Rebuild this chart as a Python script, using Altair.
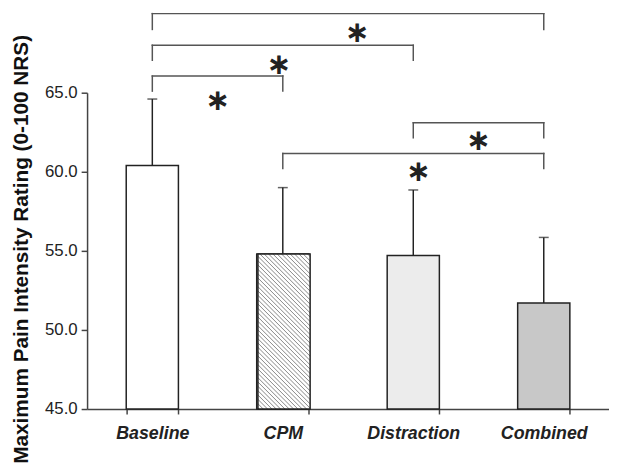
import altair as alt
import pandas as pd

categories = ["Baseline", "CPM", "Distraction", "Combined"]
means = [60.4, 54.8, 54.7, 51.7]
upper = [64.6, 59.0, 58.85, 55.85]
fills = ["#ffffff", "#d8d8d8", "#ececec", "#c8c8c8"]

y_ticks = [45, 50, 55, 60, 65]

# significance brackets: left / right category index, top value, leg end value
br_left = [0, 0, 0, 2, 1]
br_right = [3, 2, 1, 3, 3]
br_top = [70.0, 68.0, 66.05, 63.1, 61.15]
br_leg = [69.0, 67.05, 65.1, 62.15, 60.2]

# asterisks (position in category index units, value units)
star_x = [0.5, 0.97, 1.57, 2.5, 2.04]
star_y = [64.5, 66.75, 68.75, 61.95, 60.0]

FONT = "Liberation Sans"
WIDTH, HEIGHT = 528, 320
Y0, Y1 = 45, 65

bars_df = pd.DataFrame({
    "cat": categories,
    "mean": means,
    "upper": upper,
    "idx": list(range(len(categories))),
    "fill": fills,
})
br_df = pd.DataFrame({"l": br_left, "r": br_right, "top": br_top, "leg": br_leg})
legs_df = pd.DataFrame({
    "idx": br_left + br_right,
    "top": br_top + br_top,
    "leg": br_leg + br_leg,
})
star_df = pd.DataFrame({"x": star_x, "y": star_y})

yscale = alt.Scale(domain=[Y0, Y1], nice=False, zero=False)
xq = alt.Scale(domain=[-0.5, 3.5], nice=False, zero=False)

# diagonal hatch ("\\" lines) for the CPM bar, made as a striped linear gradient
bw = 0.4 * WIDTH / len(categories)
bh = (means[1] - Y0) * HEIGHT / (Y1 - Y0)
t = (bw + bh) / (bw * bw + bh * bh)
L = (bw + bh) / 2 ** 0.5
period = 3.1
stops = []
k = 0.0
while k < L:
    stops.append(alt.GradientStop(offset=min(k / L, 1), color="#ffffff"))
    stops.append(alt.GradientStop(offset=min((k + 0.7) / L, 1), color="#858585"))
    stops.append(alt.GradientStop(offset=min((k + 1.4) / L, 1), color="#ffffff"))
    k += period
hatch = alt.LinearGradient(
    gradient="linear", x1=0, y1=1, x2=bw * t, y2=1 - bh * t, stops=stops
)

yaxis = alt.Axis(
    values=y_ticks, format=".1f",
    title="Maximum Pain Intensity Rating (0-100 NRS)",
    titleFont=FONT, titleFontSize=21, titleFontWeight="bold",
    titleColor="#111111", titleX=-66, titleY=158, titleBaseline="middle",
    labelFont=FONT, labelFontSize=17, labelColor="#222222",
    labelPadding=4, tickSize=6, tickColor="#444444", tickWidth=1.5,
    domainColor="#444444", domainWidth=1.5, grid=False,
)
xscale = alt.Scale(paddingInner=0.6, paddingOuter=0.3)
xaxis = alt.Axis(
    title=None, labelAngle=0, labelFont=FONT, labelFontSize=18,
    labelFontWeight="bold", labelFontStyle="italic", labelColor="#222222",
    tickBand="extent", tickSize=5, labelPadding=11,
    domainColor="#444444", domainWidth=1.5,
    tickColor="#444444", tickWidth=1.5, grid=False,
)

bars = alt.Chart(bars_df).mark_bar(stroke="#222222", strokeWidth=1.5).encode(
    x=alt.X("cat:N", sort=categories, scale=xscale, axis=xaxis),
    y=alt.Y("mean:Q", scale=yscale, axis=yaxis),
    y2=alt.datum(Y0),
    fill=alt.Fill("fill:N", scale=None),
)

hatched = alt.Chart(bars_df).transform_filter(
    alt.datum.cat == "CPM"
).mark_bar(fill=hatch, stroke="#222222", strokeWidth=1.5, size=bw).encode(
    x=alt.X("idx:Q", scale=xq, axis=None),
    y=alt.Y("mean:Q", scale=yscale, axis=yaxis),
    y2=alt.datum(Y0),
)

err = alt.Chart(bars_df).mark_rule(color="#222222", strokeWidth=1.5).encode(
    x=alt.X("idx:Q", scale=xq, axis=None),
    y=alt.Y("mean:Q", scale=yscale, axis=yaxis),
    y2="upper:Q",
)
caps = alt.Chart(bars_df).mark_tick(
    orient="horizontal", size=10, thickness=1.5, color="#222222"
).encode(
    x=alt.X("idx:Q", scale=xq, axis=None),
    y=alt.Y("upper:Q", scale=yscale, axis=yaxis),
)

br_h = alt.Chart(br_df).mark_rule(color="#555555", strokeWidth=1.5, strokeCap="square").encode(
    x=alt.X("l:Q", scale=xq, axis=None),
    x2="r:Q",
    y=alt.Y("top:Q", scale=yscale, axis=yaxis),
)
br_v = alt.Chart(legs_df).mark_rule(color="#555555", strokeWidth=1.5, strokeCap="square").encode(
    x=alt.X("idx:Q", scale=xq, axis=None),
    y=alt.Y("top:Q", scale=yscale, axis=yaxis),
    y2="leg:Q",
)
stars = alt.Chart(star_df).mark_text(
    text="\u2217", font="DejaVu Sans", fontSize=30, fontWeight="bold",
    baseline="middle", align="center", color="#222222",
).encode(
    x=alt.X("x:Q", scale=xq, axis=None),
    y=alt.Y("y:Q", scale=yscale, axis=yaxis),
)

chart = alt.layer(bars, hatched, err, caps, br_h, br_v, stars).resolve_scale(
    x="independent"
).properties(
    width=WIDTH,
    height=HEIGHT,
    autosize=alt.AutoSizeParams(type="none"),
    padding={"left": 80, "top": 83, "right": 0, "bottom": 60},
    background="white",
).configure_view(stroke=None)

chart.save("out.html", embed_options={"renderer": "svg", "actions": False})
